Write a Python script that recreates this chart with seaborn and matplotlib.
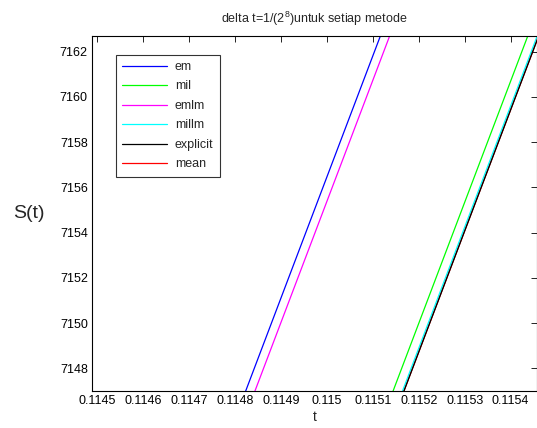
import matplotlib
matplotlib.use("Agg")
import matplotlib.pyplot as plt
import seaborn as sns
import pandas as pd

# Data (two end points per series, straight segments)
series_names = ["em", "mil", "emlm", "millm", "explicit", "mean"]
S_points = [7146.0, 7164.0]
t_em = [0.1148043, 0.1151409]
t_mil = [0.1151255, 0.1154621]
t_emlm = [0.1148245, 0.1151611]
t_millm = [0.1151460, 0.1154826]
t_explicit = [0.1151492, 0.1154858]
t_mean = [0.1151492, 0.1154858]

x_ticks = [0.1145, 0.1146, 0.1147, 0.1148, 0.1149, 0.1150, 0.1151, 0.1152, 0.1153, 0.1154]
x_ticklabels = ["0.1145", "0.1146", "0.1147", "0.1148", "0.1149", "0.115",
                "0.1151", "0.1152", "0.1153", "0.1154"]
y_ticks = [7148, 7150, 7152, 7154, 7156, 7158, 7160, 7162]

colors = {"em": "#0000ff", "mil": "#00ff00", "emlm": "#ff00ff",
          "millm": "#00ffff", "explicit": "#000000", "mean": "#ff0000"}

all_t = [t_em, t_mil, t_emlm, t_millm, t_explicit, t_mean]
rows = []
for name, tv in zip(series_names, all_t):
    for t, s in zip(tv, S_points):
        rows.append({"t": t, "S": s, "method": name})
df = pd.DataFrame(rows)

sns.set_theme(style="white")
plt.rcParams["font.family"] = ["Liberation Sans", "DejaVu Sans"]
plt.rcParams["mathtext.default"] = "regular"

fig = plt.figure(figsize=(5.37, 4.28), dpi=100)
ax = fig.add_axes([0.1713, 0.0872, 0.8281, 0.8287])

sns.lineplot(data=df, x="t", y="S", hue="method", hue_order=series_names,
             palette=colors, sort=False, estimator=None, linewidth=0.9, ax=ax)
# mean lies beneath explicit
ax.lines[5].set_zorder(1.5)

ax.set_xlim(0.114488, 0.115457)
ax.set_ylim(7147.01, 7162.69)
ax.set_xticks(x_ticks)
ax.set_xticklabels(x_ticklabels)
ax.set_yticks(y_ticks)
ax.tick_params(direction="in", top=True, right=True, length=4, width=0.6,
               labelsize=9, colors="black", pad=3)
for sp in ax.spines.values():
    sp.set_color("black")
    sp.set_linewidth(0.8)

ax.set_xlabel("t", fontsize=10, labelpad=2)
ax.set_ylabel("S(t)", fontsize=14, rotation=0, labelpad=22, va="center")
ax.set_title(r"delta t=1/(2$^{8}$)untuk setiap metode", fontsize=9, pad=9)

leg = ax.legend(loc="upper left", bbox_to_anchor=(0.04, 0.965), fontsize=9,
                frameon=True, fancybox=False, edgecolor="black",
                handlelength=3.6, handletextpad=0.6, borderpad=0.5,
                labelspacing=0.6)
leg.get_frame().set_linewidth(0.8)
for line in leg.get_lines():
    line.set_linewidth(0.9)

fig.savefig("out.png", dpi=100)
